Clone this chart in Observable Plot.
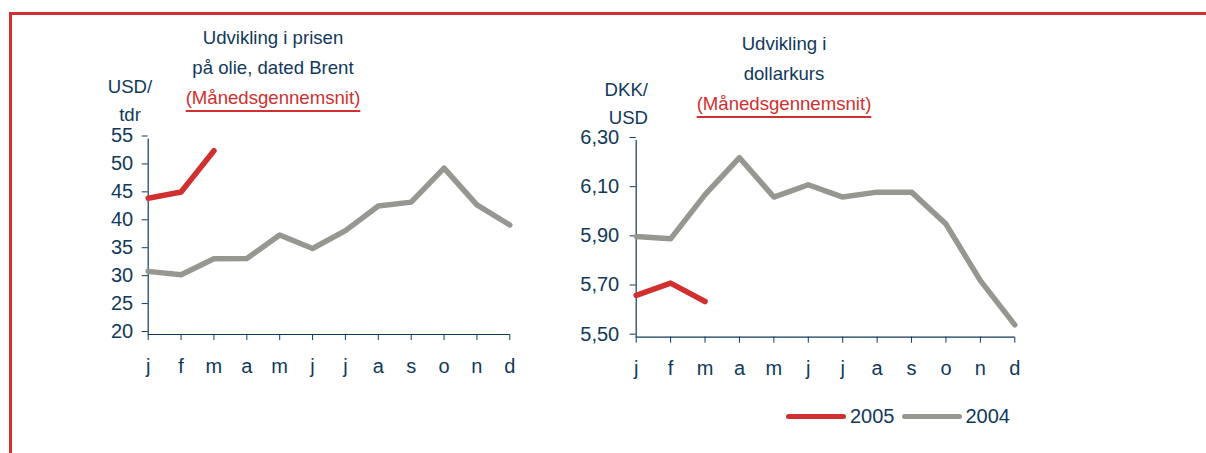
<!DOCTYPE html>
<html>
<head>
<meta charset="utf-8">
<script src="https://cdn.jsdelivr.net/npm/d3@7"></script>
<script src="https://cdn.jsdelivr.net/npm/@observablehq/plot@0.6"></script>
<style>
  html, body { margin: 0; padding: 0; background: #fff; }
  #wrap { position: relative; width: 1206px; height: 453px; overflow: hidden; font-family: "Liberation Sans", Arial, sans-serif; color: #11395a; }
  #frame { position: absolute; left: 9px; top: 12px; right: -10px; bottom: -10px; border-top: 3px solid #d0302f; border-left: 3px solid #d0302f; }
  .abs { position: absolute; }
  .title { font-size: 18.6px; line-height: 30px; text-align: center; white-space: nowrap; }
  .title .sub { color: #d0302f; text-decoration: underline; text-decoration-thickness: 2px; text-underline-offset: 6px; }
  .unit { font-size: 18.6px; line-height: 28px; white-space: nowrap; }
  .leg { font-size: 20px; display: flex; align-items: center; white-space: nowrap; }
  .leg .sw { display: inline-block; height: 5.5px; border-radius: 3px; }
</style>
</head>
<body>
<div id="wrap">
  <div id="frame"></div>
  <div class="abs title" style="left:173px; top:23px; width:200px;">Udvikling i prisen<br>på olie, dated Brent<br><span class="sub">(Månedsgennemsnit)</span></div>
  <div class="abs title" style="left:684px; top:29px; width:200px;">Udvikling i<br>dollarkurs<br><span class="sub">(Månedsgennemsnit)</span></div>
  <div class="abs unit" style="left:90px; top:73px; width:80px; text-align:center;">USD/<br>tdr</div>
  <div class="abs unit" style="left:567px; top:76px; width:81px; text-align:right;">DKK/<br>USD</div>
  <div id="left" class="abs" style="left:0px; top:100px;"></div>
  <div id="right" class="abs" style="left:570px; top:100px;"></div>
  <div class="abs leg" style="left:786px; top:405px;">
    <span class="sw" style="width:60px; background:#d0302f;"></span><span style="margin-left:4px;">2005</span>
    <span class="sw" style="width:60px; background:#979791; margin-left:7px;"></span><span style="margin-left:4px;">2004</span>
  </div>
</div>
<script>
const months = ["j","f","m","a","m","j","j","a","s","o","n","d"];
const oil2004 = [31.3, 30.7, 33.55, 33.6, 37.8, 35.4, 38.6, 43.0, 43.7, 49.8, 43.2, 39.6];
const oil2005 = [44.4, 45.5, 52.9];
const usd2004 = [5.91, 5.90, 6.08, 6.23, 6.07, 6.12, 6.07, 6.09, 6.09, 5.96, 5.73, 5.55];
const usd2005 = [5.67, 5.72, 5.645];
const oilTicks = [20, 25, 30, 35, 40, 45, 50, 55];
const usdTicks = [5.5, 5.7, 5.9, 6.1, 6.3];

const RED = "#d0302f", GREY = "#979791", NAVY = "#11395a";
const toRows = arr => arr.map((v, i) => ({i, v}));

function chart({width, height, marginLeft, marginRight, marginTop, marginBottom, yDomain, yTicks, yFormat, yPad, s2004, s2005}) {
  return Plot.plot({
    width, height, marginLeft, marginRight, marginTop, marginBottom,
    x: {type: "linear", domain: [0, 11]},
    y: {domain: yDomain},
    style: {fontFamily: '"Liberation Sans", Arial, sans-serif', fontSize: "20px", color: NAVY, background: "transparent", overflow: "visible"},
    marks: [
      Plot.axisX({ticks: d3.range(12), tickFormat: i => months[i], tickSize: 6, tickPadding: 18, label: null, fontSize: 20}),
      Plot.axisY({ticks: yTicks, tickFormat: yFormat, tickSize: 6, tickPadding: yPad, label: null, fontSize: 20, dy: -3}),
      Plot.ruleX([0], {stroke: NAVY, strokeWidth: 1.2}),
      Plot.ruleY([yDomain[0]], {stroke: NAVY, strokeWidth: 1.2}),
      Plot.line(toRows(s2004), {x: "i", y: "v", stroke: GREY, strokeWidth: 5.5, strokeLinecap: "round", strokeLinejoin: "round"}),
      Plot.line(toRows(s2005), {x: "i", y: "v", stroke: RED, strokeWidth: 5.5, strokeLinecap: "round", strokeLinejoin: "round"})
    ]
  });
}

document.getElementById("left").append(chart({
  width: 570, height: 300, marginLeft: 147.7, marginRight: 60.7, marginTop: 38.5, marginBottom: 66,
  yDomain: [20, 55], yTicks: oilTicks, yFormat: d => String(d), yPad: 9, s2004: oil2004, s2005: oil2005
}));
document.getElementById("right").append(chart({
  width: 636, height: 300, marginLeft: 65.7, marginRight: 191.7, marginTop: 40, marginBottom: 63.3,
  yDomain: [5.5, 6.3], yTicks: usdTicks, yFormat: d => d.toFixed(2).replace(".", ","), yPad: 11, s2004: usd2004, s2005: usd2005
}));
</script>
</body>
</html>
